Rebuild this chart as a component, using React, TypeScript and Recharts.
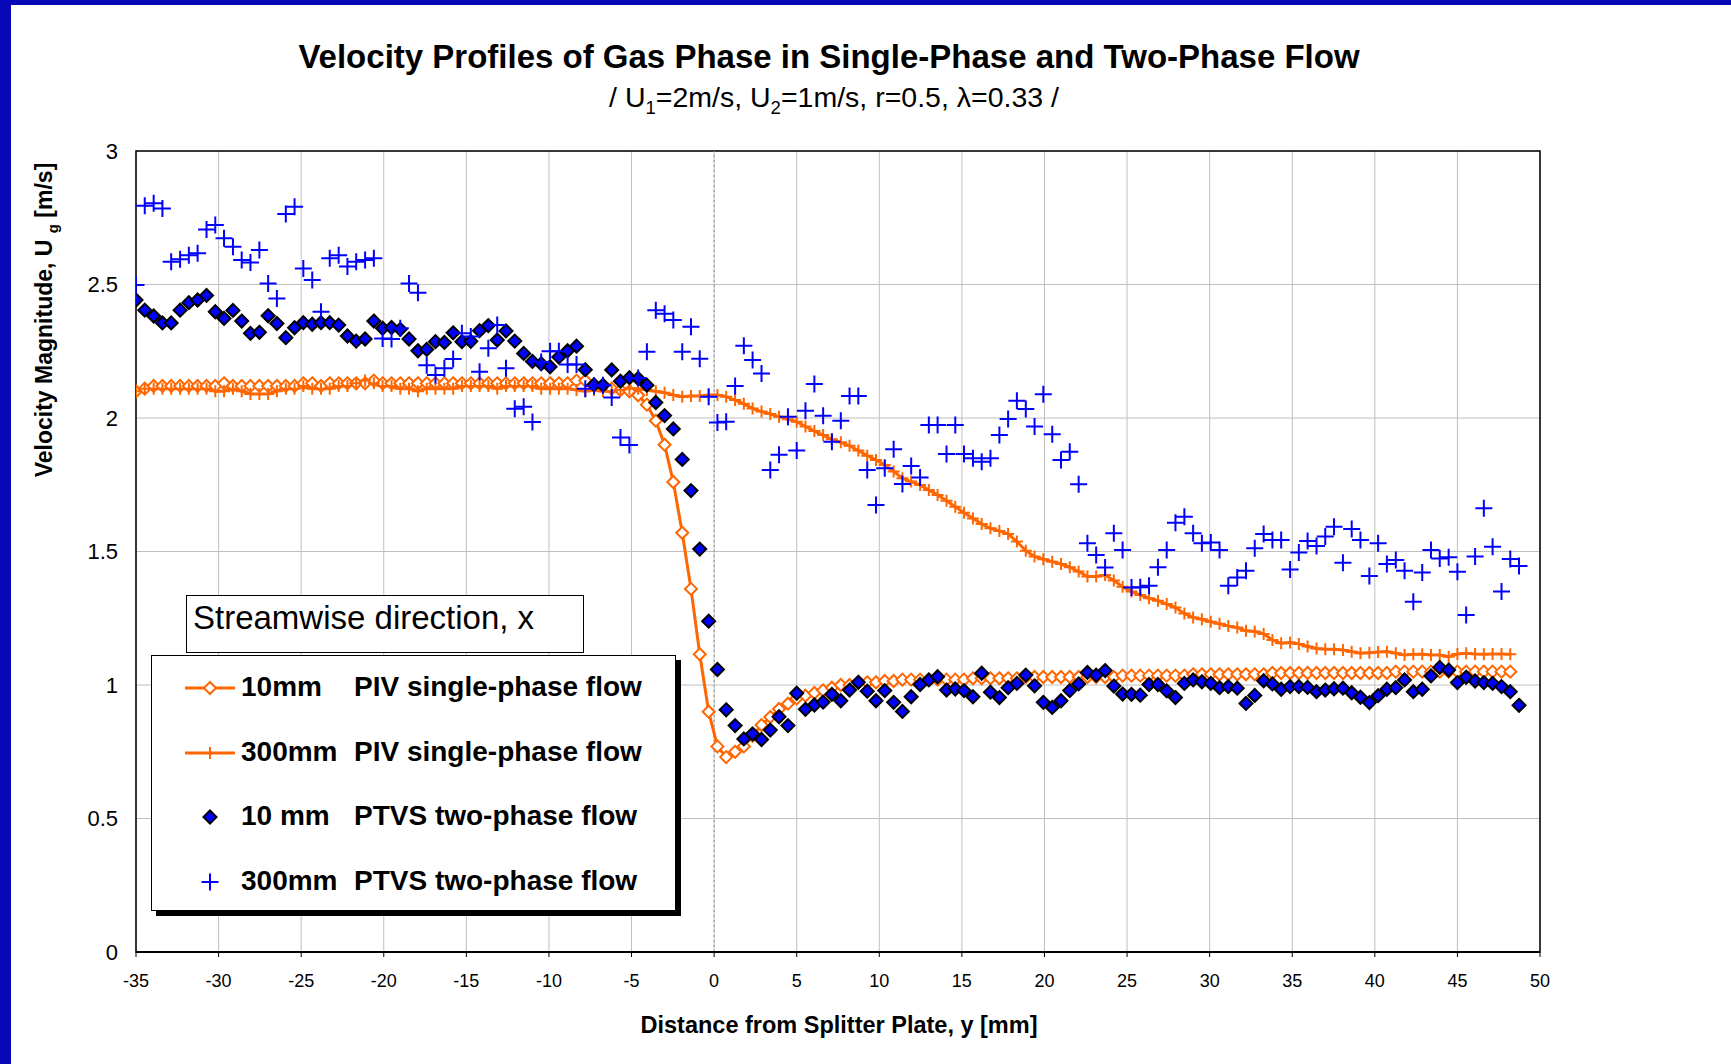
import { ComposedChart, Line, Scatter, XAxis, YAxis, CartesianGrid, ReferenceLine, ReferenceArea } from 'recharts';

const FONT = '"Liberation Sans", Arial, Helvetica, sans-serif';
const ORANGE = '#FF6600';
const BLUE = '#0000FF';
const FRAME_BLUE = '#0808B8';

// distance from splitter plate [mm], measurement grid
const Y_POS = [
  -35.0, -34.47, -33.93, -33.4, -32.87, -32.33, -31.8, -31.27, -30.73, -30.2, -29.67, -29.13, -28.6, -28.07, -27.53,
  -27.0, -26.47, -25.93, -25.4, -24.87, -24.33, -23.8, -23.27, -22.73, -22.2, -21.67, -21.13, -20.6, -20.07, -19.53,
  -19.0, -18.47, -17.93, -17.4, -16.87, -16.33, -15.8, -15.27, -14.73, -14.2, -13.67, -13.13, -12.6, -12.07, -11.53,
  -11.0, -10.47, -9.93, -9.4, -8.87, -8.33, -7.8, -7.27, -6.73, -6.2, -5.67, -5.13, -4.6, -4.07, -3.53,
  -3.0, -2.47, -1.93, -1.4, -0.87, -0.33, 0.2, 0.73, 1.27, 1.8, 2.33, 2.87, 3.4, 3.93, 4.47,
  5.0, 5.53, 6.07, 6.6, 7.13, 7.67, 8.2, 8.73, 9.27, 9.8, 10.33, 10.87, 11.4, 11.93, 12.47,
  13.0, 13.53, 14.07, 14.6, 15.13, 15.67, 16.2, 16.73, 17.27, 17.8, 18.33, 18.87, 19.4, 19.93, 20.47,
  21.0, 21.53, 22.07, 22.6, 23.13, 23.67, 24.2, 24.73, 25.27, 25.8, 26.33, 26.87, 27.4, 27.93, 28.47,
  29.0, 29.53, 30.07, 30.6, 31.13, 31.67, 32.2, 32.73, 33.27, 33.8, 34.33, 34.87, 35.4, 35.93, 36.47,
  37.0, 37.53, 38.07, 38.6, 39.13, 39.67, 40.2, 40.73, 41.27, 41.8, 42.33, 42.87, 43.4, 43.93, 44.47,
  45.0, 45.53, 46.07, 46.6, 47.13, 47.67, 48.2, 48.73,
];

const PIV_10MM = [
  2.1, 2.11, 2.12, 2.12, 2.12, 2.12, 2.12, 2.12, 2.12, 2.12,
  2.13, 2.12, 2.12, 2.12, 2.12, 2.12, 2.12, 2.12, 2.12, 2.13,
  2.13, 2.12, 2.13, 2.13, 2.13, 2.13, 2.13, 2.14, 2.13, 2.13,
  2.13, 2.13, 2.13, 2.13, 2.13, 2.13, 2.13, 2.13, 2.13, 2.13,
  2.13, 2.13, 2.13, 2.13, 2.13, 2.13, 2.13, 2.13, 2.13, 2.13,
  2.14, 2.14, 2.12, 2.12, 2.11, 2.105, 2.1, 2.085, 2.05, 1.99,
  1.9, 1.76, 1.57, 1.36, 1.115, 0.9, 0.77, 0.73, 0.75, 0.77,
  0.81, 0.85, 0.88, 0.91, 0.93, 0.95, 0.96, 0.97, 0.98, 0.99,
  1.0, 1.0, 1.01, 1.01, 1.01, 1.015, 1.015, 1.02, 1.02, 1.02,
  1.02, 1.02, 1.02, 1.02, 1.02, 1.025, 1.025, 1.025, 1.025, 1.025,
  1.025, 1.03, 1.03, 1.03, 1.03, 1.03, 1.03, 1.03, 1.03, 1.03,
  1.03, 1.03, 1.035, 1.035, 1.035, 1.035, 1.035, 1.035, 1.035, 1.035,
  1.04, 1.04, 1.04, 1.04, 1.04, 1.04, 1.04, 1.04, 1.04, 1.045,
  1.045, 1.045, 1.045, 1.045, 1.045, 1.045, 1.045, 1.045, 1.045, 1.045,
  1.045, 1.045, 1.045, 1.05, 1.05, 1.05, 1.05, 1.05, 1.05, 1.05,
  1.05, 1.05, 1.05, 1.05, 1.05, 1.05, 1.05, null,
];

const PIV_300MM = [
  2.1, 2.11, 2.11, 2.11, 2.11, 2.11, 2.11, 2.11, 2.11, 2.1,
  2.1, 2.11, 2.1, 2.09, 2.09, 2.09, 2.1, 2.11, 2.11, 2.12,
  2.11, 2.11, 2.11, 2.12, 2.12, 2.13, 2.14, 2.13, 2.12, 2.12,
  2.11, 2.11, 2.1, 2.11, 2.11, 2.11, 2.11, 2.12, 2.12, 2.12,
  2.12, 2.11, 2.12, 2.12, 2.12, 2.12, 2.11, 2.11, 2.11, 2.11,
  2.105, 2.1, 2.105, 2.1, 2.1, 2.105, 2.11, 2.11, 2.105, 2.1,
  2.095, 2.086, 2.08, 2.082, 2.082, 2.086, 2.086, 2.08, 2.067, 2.053,
  2.036, 2.024, 2.015, 2.005, 1.995, 1.986, 1.968, 1.951, 1.936, 1.92,
  1.909, 1.896, 1.878, 1.859, 1.843, 1.824, 1.8, 1.774, 1.762, 1.749,
  1.73, 1.712, 1.69, 1.668, 1.645, 1.624, 1.603, 1.587, 1.577, 1.566,
  1.537, 1.503, 1.481, 1.471, 1.462, 1.453, 1.441, 1.425, 1.406, 1.406,
  1.412, 1.391, 1.368, 1.35, 1.337, 1.325, 1.316, 1.303, 1.29, 1.268,
  1.253, 1.246, 1.237, 1.229, 1.221, 1.215, 1.203, 1.2, 1.191, 1.169,
  1.156, 1.159, 1.154, 1.144, 1.137, 1.134, 1.134, 1.131, 1.125, 1.119,
  1.121, 1.124, 1.125, 1.119, 1.112, 1.115, 1.115, 1.112, 1.112, 1.106,
  1.116, 1.119, 1.116, 1.115, 1.116, 1.116, 1.115, null,
];

const PTVS_10MM = [
  2.442, 2.404, 2.382, 2.356, 2.356, 2.404, 2.432, 2.442, 2.459, 2.398,
  2.373, 2.403, 2.363, 2.317, 2.321, 2.383, 2.354, 2.301, 2.338, 2.357,
  2.351, 2.357, 2.357, 2.348, 2.307, 2.288, 2.296, 2.363, 2.336, 2.339,
  2.332, 2.296, 2.252, 2.257, 2.286, 2.283, 2.319, 2.286, 2.287, 2.327,
  2.346, 2.292, 2.326, 2.288, 2.242, 2.212, 2.203, 2.192, 2.228, 2.252,
  2.269, 2.181, 2.125, 2.123, 2.18, 2.138, 2.151, 2.148, 2.123, 2.058,
  2.009, 1.959, 1.845, 1.728, 1.509, 1.239, 1.058, 0.907, 0.848, 0.798,
  0.817, 0.796, 0.831, 0.881, 0.848, 0.969, 0.909, 0.925, 0.936, 0.965,
  0.941, 0.981, 1.01, 0.977, 0.941, 0.979, 0.935, 0.901, 0.956, 1.002,
  1.019, 1.031, 0.981, 0.985, 0.979, 0.956, 1.044, 0.973, 0.953, 0.99,
  1.006, 1.037, 0.997, 0.935, 0.916, 0.941, 0.979, 1.004, 1.047, 1.037,
  1.054, 0.996, 0.966, 0.965, 0.962, 1.002, 1.002, 0.978, 0.953, 1.006,
  1.019, 1.012, 1.006, 0.99, 0.994, 0.988, 0.931, 0.961, 1.016, 1.004,
  0.984, 0.994, 0.994, 0.991, 0.975, 0.981, 0.986, 0.988, 0.971, 0.954,
  0.934, 0.96, 0.984, 0.99, 1.019, 0.975, 0.984, 1.034, 1.066, 1.056,
  1.009, 1.029, 1.015, 1.009, 1.006, 0.994, 0.975, 0.924,
];

const PTVS_300MM = [
  2.498, 2.795, 2.804, 2.785, 2.585, 2.595, 2.61, 2.617, 2.706, 2.723,
  2.673, 2.641, 2.592, 2.582, 2.629, 2.504, 2.448, 2.764, 2.791, 2.56,
  2.517, 2.398, 2.598, 2.61, 2.567, 2.585, 2.592, 2.598, 2.298, 2.296,
  2.336, 2.504, 2.469, 2.198, 2.161, 2.186, 2.221, 2.317, 2.305, 2.173,
  2.261, 2.348, 2.186, 2.035, 2.042, 1.985, 2.21, 2.25, 2.25, 2.2,
  2.2, 2.11, 2.12, 2.123, 2.077, 1.927, 1.899, 2.15, 2.248, 2.404,
  2.39, 2.367, 2.248, 2.342, 2.222, 2.08, 1.983, 1.986, 2.12, 2.271,
  2.217, 2.167, 1.805, 1.862, 2.005, 1.878, 2.027, 2.127, 2.008, 1.911,
  1.99, 2.082, 2.082, 1.805, 1.674, 1.812, 1.883, 1.753, 1.82, 1.777,
  1.974, 1.974, 1.865, 1.974, 1.865, 1.849, 1.836, 1.849, 1.936, 1.996,
  2.065, 2.034, 1.968, 2.089, 1.939, 1.843, 1.874, 1.752, 1.531, 1.487,
  1.44, 1.568, 1.506, 1.365, 1.366, 1.372, 1.441, 1.506, 1.608, 1.63,
  1.568, 1.531, 1.534, 1.506, 1.372, 1.403, 1.428, 1.512, 1.566, 1.543,
  1.543, 1.433, 1.496, 1.539, 1.521, 1.556, 1.593, 1.458, 1.584, 1.543,
  1.408, 1.531, 1.453, 1.468, 1.428, 1.312, 1.421, 1.506, 1.474, 1.478,
  1.424, 1.262, 1.481, 1.662, 1.518, 1.35, 1.472, 1.446,
];

const X_TICKS = [-35, -30, -25, -20, -15, -10, -5, 0, 5, 10, 15, 20, 25, 30, 35, 40, 45, 50];
const Y_TICKS = [0, 0.5, 1, 1.5, 2, 2.5, 3];

const LEGEND_ROWS = [
  { size: '10mm', method: 'PIV single-phase flow', marker: 'hollowDiamond' },
  { size: '300mm', method: 'PIV single-phase flow', marker: 'orangeCross' },
  { size: '10 mm', method: 'PTVS two-phase flow', marker: 'blueDiamond' },
  { size: '300mm', method: 'PTVS two-phase flow', marker: 'blueCross' },
];

const rows = Y_POS.map((pos, i) => ({
  pos,
  piv10: PIV_10MM[i],
  piv300: PIV_300MM[i],
  ptvs10: PTVS_10MM[i],
  ptvs300: PTVS_300MM[i],
}));

const diamondPath = (cx: number, cy: number, r: number) =>
  `M${cx},${cy - r}L${cx + r},${cy}L${cx},${cy + r}L${cx - r},${cy}Z`;
const crossPath = (cx: number, cy: number, r: number) =>
  `M${cx - r},${cy}H${cx + r}M${cx},${cy - r}V${cy + r}`;

const valid = (cx: any, cy: any) => typeof cx === 'number' && typeof cy === 'number' && !isNaN(cx) && !isNaN(cy);

const hollowDiamondDot = (props: any) => {
  const { cx, cy, index } = props;
  if (!valid(cx, cy)) return <g key={`hd-${index}`} />;
  return <path key={`hd-${index}`} d={diamondPath(cx, cy, 6)} fill="#fff" stroke={ORANGE} strokeWidth={2} />;
};

const orangeCrossDot = (props: any) => {
  const { cx, cy, index } = props;
  if (!valid(cx, cy)) return <g key={`oc-${index}`} />;
  return <path key={`oc-${index}`} d={crossPath(cx, cy, 6)} fill="none" stroke={ORANGE} strokeWidth={2} />;
};

const BlueDiamond = (props: any) => {
  const { cx, cy } = props;
  if (!valid(cx, cy)) return <g />;
  return <path d={diamondPath(cx, cy, 6.5)} fill={BLUE} stroke="#000" strokeWidth={2} />;
};

const BlueCross = (props: any) => {
  const { cx, cy } = props;
  if (!valid(cx, cy)) return <g />;
  return <path d={crossPath(cx, cy, 8.5)} fill="none" stroke={BLUE} strokeWidth={2} />;
};

const LegendMarker = ({ kind }: { kind: string }) => (
  <svg width={52} height={24} style={{ display: 'block' }}>
    {(kind === 'hollowDiamond' || kind === 'orangeCross') && (
      <line x1={1} y1={12} x2={51} y2={12} stroke={ORANGE} strokeWidth={3} />
    )}
    {kind === 'hollowDiamond' && <path d={diamondPath(26, 12, 6)} fill="#fff" stroke={ORANGE} strokeWidth={2} />}
    {kind === 'orangeCross' && <path d={crossPath(26, 12, 6)} fill="none" stroke={ORANGE} strokeWidth={2} />}
    {kind === 'blueDiamond' && <path d={diamondPath(26, 12, 6.5)} fill={BLUE} stroke="#000" strokeWidth={2} />}
    {kind === 'blueCross' && <path d={crossPath(26, 12, 8.5)} fill="none" stroke={BLUE} strokeWidth={2} />}
  </svg>
);

const centered = (x: number, y: number): React.CSSProperties => ({
  position: 'absolute',
  left: x,
  top: y,
  transform: 'translate(-50%, -50%)',
  whiteSpace: 'nowrap',
});

export default function App() {
  return (
    <div style={{ position: 'absolute', left: 0, top: 0, width: 1731, height: 1064, background: '#fff', fontFamily: FONT, color: '#000', overflow: 'hidden' }}>
      <ComposedChart
        width={1731}
        height={1064}
        data={rows}
        margin={{ top: 151, right: 191, bottom: 72, left: 76 }}
      >
        <CartesianGrid stroke="#c0c0c0" strokeWidth={1} />
        <XAxis
          dataKey="pos"
          type="number"
          domain={[-35, 50]}
          ticks={X_TICKS}
          allowDataOverflow
          height={40}
          axisLine={{ stroke: '#000', strokeWidth: 2 }}
          tickLine={{ stroke: '#000' }}
          tickSize={5}
          tickMargin={17}
          tick={{ fontSize: 18, fill: '#000', fontFamily: FONT }}
        />
        <YAxis
          type="number"
          domain={[0, 3]}
          ticks={Y_TICKS}
          width={60}
          axisLine={false}
          tickLine={false}
          tickSize={0}
          tickMargin={18}
          tick={{ fontSize: 22, fill: '#000', fontFamily: FONT }}
        />
        <ReferenceArea x1={-35} x2={50} y1={0} y2={3} fill="none" stroke="#000" strokeWidth={1.5} />
        <ReferenceLine x={0} stroke="#909090" strokeDasharray="2 3" />
        <Line
          dataKey="piv10"
          stroke={ORANGE}
          strokeWidth={3}
          dot={hollowDiamondDot}
          activeDot={false}
          isAnimationActive={false}
        />
        <Line
          dataKey="piv300"
          stroke={ORANGE}
          strokeWidth={3}
          dot={orangeCrossDot}
          activeDot={false}
          isAnimationActive={false}
        />
        <Scatter dataKey="ptvs10" shape={(p: any) => <BlueDiamond {...p} />} isAnimationActive={false} />
        <Scatter dataKey="ptvs300" shape={(p: any) => <BlueCross {...p} />} isAnimationActive={false} />
      </ComposedChart>

      {/* frame bands */}
      <div style={{ position: 'absolute', left: 0, top: 0, width: 1731, height: 5, background: FRAME_BLUE }} />
      <div style={{ position: 'absolute', left: 0, top: 0, width: 11, height: 1064, background: FRAME_BLUE }} />

      <div style={{ ...centered(829, 57), fontSize: 33, fontWeight: 'bold' }}>
        Velocity Profiles of Gas Phase in Single-Phase and Two-Phase Flow
      </div>
      <div style={{ ...centered(834, 100), fontSize: 28.5 }}>
        / U<sub style={{ fontSize: '0.65em' }}>1</sub>=2m/s, U<sub style={{ fontSize: '0.65em' }}>2</sub>=1m/s, r=0.5, λ=0.33 /
      </div>
      <div style={{ ...centered(46, 320), transform: 'translate(-50%, -50%) rotate(-90deg)', fontSize: 23, fontWeight: 'bold' }}>
        Velocity Magnitude, U <sub style={{ fontSize: '0.65em' }}>g</sub> [m/s]
      </div>
      <div style={{ ...centered(839, 1025), fontSize: 23.5, fontWeight: 'bold' }}>
        Distance from Splitter Plate, y [mm]
      </div>

      <div
        style={{
          position: 'absolute',
          left: 186,
          top: 595,
          width: 398,
          height: 58,
          boxSizing: 'border-box',
          border: '1.5px solid #000',
          background: '#fff',
          fontSize: 33,
          paddingLeft: 6,
          lineHeight: '44px',
          whiteSpace: 'nowrap',
        }}
      >
        Streamwise direction, x
      </div>

      <div
        style={{
          position: 'absolute',
          left: 151,
          top: 655,
          width: 525,
          height: 256,
          boxSizing: 'border-box',
          border: '1.5px solid #000',
          background: '#fff',
          boxShadow: '5px 5px 0 #000',
        }}
      >
        {LEGEND_ROWS.map((row, i) => (
          <div
            key={row.size + row.method}
            style={{ position: 'absolute', left: 0, top: 32 + i * 64.5, height: 0, width: '100%' }}
          >
            <div style={{ position: 'absolute', left: 32, top: -12 }}>
              <LegendMarker kind={row.marker} />
            </div>
            <div style={{ position: 'absolute', left: 89, top: -17, fontSize: 28, fontWeight: 'bold', lineHeight: '32px', whiteSpace: 'nowrap' }}>
              {row.size}
            </div>
            <div style={{ position: 'absolute', left: 202, top: -17, fontSize: 28, fontWeight: 'bold', lineHeight: '32px', whiteSpace: 'nowrap' }}>
              {row.method}
            </div>
          </div>
        ))}
      </div>
    </div>
  );
}
